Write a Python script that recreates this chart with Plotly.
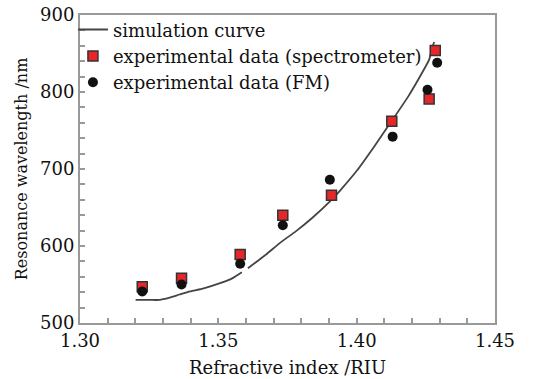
import plotly.graph_objects as go

# Simulation curve (None marks the small gap visible in the reference)
sim_x = [1.3201, 1.3250, 1.3287, 1.3324, 1.3360, 1.3398, 1.3447, 1.3509, 1.3550, 1.3585, None,
         1.3607, 1.3669, 1.3730, 1.3780, 1.3841, 1.3909, 1.3940, 1.4001, 1.4063, 1.4124,
         1.4186, 1.4235, 1.4262, 1.4272, 1.4280]
sim_y = [530, 530, 530, 533, 537, 541, 545, 552, 558, 566, None,
         571, 588, 606, 619, 637, 660, 672, 698, 729, 761,
         794, 824, 842, 856, 865]

# Experimental data (spectrometer)
spec_x = [1.3225, 1.3367, 1.3579, 1.3733, 1.3909, 1.4127, 1.4262, 1.4284]
spec_y = [547, 558, 589, 640, 666, 762, 791, 854]

# Experimental data (FM)
fm_x = [1.3225, 1.3367, 1.3579, 1.3733, 1.3903, 1.4130, 1.4256, 1.4291]
fm_y = [541, 550, 577, 627, 686, 742, 803, 838]

font_family = "DejaVu Serif"

fig = go.Figure()
fig.add_trace(go.Scatter(x=sim_x, y=sim_y, mode="lines", name="simulation curve",
                         line=dict(color="#444444", width=1.8, shape="spline", smoothing=0.6),
                         connectgaps=False))
fig.add_trace(go.Scatter(x=spec_x, y=spec_y, mode="markers",
                         name="experimental data (spectrometer)",
                         marker=dict(symbol="square", size=10, color="#e8262a",
                                     line=dict(color="#333333", width=1.5))))
fig.add_trace(go.Scatter(x=fm_x, y=fm_y, mode="markers", name="experimental data (FM)",
                         marker=dict(symbol="circle", size=10, color="#111111",
                                     line=dict(color="#111111", width=0))))

axis_common = dict(showline=True, linecolor="#999999", linewidth=2, mirror=True,
                   ticks="inside", ticklen=5, tickwidth=1.5, tickcolor="#999999",
                   showgrid=False, zeroline=False, automargin=False,
                   tickfont=dict(family=font_family, size=18, color="#111111"),
                   minor=dict(ticks="inside", ticklen=5, tickwidth=1.5, tickcolor="#999999"))

fig.update_xaxes(range=[1.30, 1.45], tickvals=[1.30, 1.35, 1.40, 1.45],
                 ticktext=["1.30", "1.35", "1.40", "1.45"],
                 minor_dtick=0.01,
                 title=dict(text="Refractive index /RIU", standoff=12,
                            font=dict(family=font_family, size=18, color="#111111")),
                 **axis_common)
fig.update_yaxes(range=[500, 900], tickvals=[500, 600, 700, 800, 900],
                 minor_dtick=20,
                 title=dict(text="Resonance wavelength /nm", standoff=8,
                            font=dict(family=font_family, size=16, color="#111111")),
                 **axis_common)

fig.update_layout(width=533, height=379,
                  margin=dict(l=80, r=38, t=15, b=56, autoexpand=False),
                  paper_bgcolor="white", plot_bgcolor="white",
                  showlegend=True,
                  legend=dict(x=-0.017, y=1.012, xanchor="left", yanchor="top",
                              bgcolor="rgba(0,0,0,0)", itemwidth=30,
                              tracegroupgap=0,
                              font=dict(family=font_family, size=18, color="#111111")))

fig.write_html("out.html", config={"displayModeBar": False},
               post_script="document.body.style.margin='0';")
